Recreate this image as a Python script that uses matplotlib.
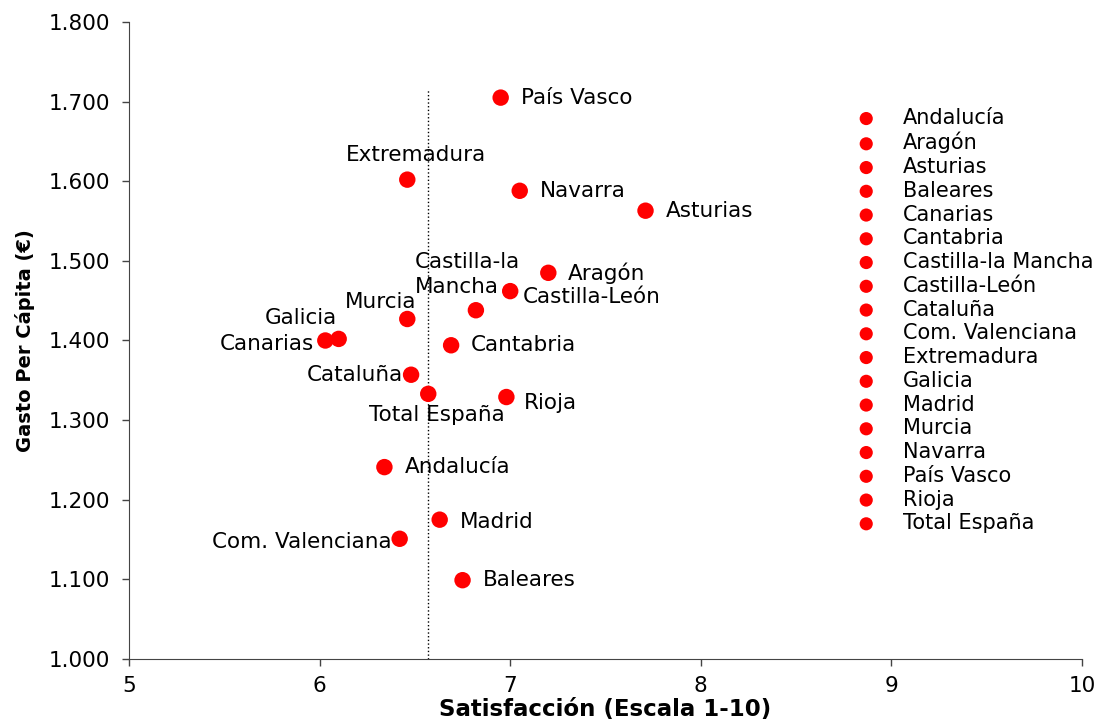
import matplotlib.pyplot as plt
from matplotlib.ticker import FuncFormatter

plt.rcParams['font.family'] = ['DejaVu Sans']

# datos por comunidad (orden alfabetico, como la leyenda)
regiones = ['Andalucía', 'Aragón', 'Asturias', 'Baleares', 'Canarias', 'Cantabria',
            'Castilla-la Mancha', 'Castilla-León', 'Cataluña', 'Com. Valenciana',
            'Extremadura', 'Galicia', 'Madrid', 'Murcia', 'Navarra', 'País Vasco',
            'Rioja', 'Total España']
satisfaccion = [6.34, 7.20, 7.71, 6.75, 6.03, 6.69, 6.82, 7.00, 6.48, 6.42,
                6.46, 6.10, 6.63, 6.46, 7.05, 6.95, 6.98, 6.57]
gasto = [1241, 1485, 1563, 1099, 1400, 1394, 1438, 1462, 1357, 1151,
         1602, 1402, 1175, 1427, 1588, 1705, 1329, 1333]

# etiquetas en el grafico: texto, desplazamiento (px), alineacion
etiquetas = {
    'Andalucía': ('Andalucía', 20, 0, 'left'),
    'Aragón': ('Aragón', 20, 0, 'left'),
    'Asturias': ('Asturias', 20, 0, 'left'),
    'Baleares': ('Baleares', 20, 0, 'left'),
    'Canarias': ('Canarias', -11, -4, 'right'),
    'Cantabria': ('Cantabria', 20, 0, 'left'),
    'Castilla-la Mancha': ('Castilla-la\nMancha', -61, 36, 'left'),
    'Castilla-León': ('Castilla-León', 13, -6, 'left'),
    'Cataluña': ('Cataluña', -8, 0, 'right'),
    'Com. Valenciana': ('Com. Valenciana', -8, -3, 'right'),
    'Extremadura': ('Extremadura', 9, 25, 'center'),
    'Galicia': ('Galicia', -38, 21, 'center'),
    'Madrid': ('Madrid', 20, -2, 'left'),
    'Murcia': ('Murcia', -27, 17, 'center'),
    'Navarra': ('Navarra', 20, 0, 'left'),
    'País Vasco': ('País Vasco', 20, 0, 'left'),
    'Rioja': ('Rioja', 17, -6, 'left'),
    'Total España': ('Total España', 9, -21, 'center'),
}

linea_total_x = 6.57
linea_total_y = [1000, 1715]

fig = plt.figure(figsize=(10.99, 7.25), dpi=100)
ax = fig.add_axes([0.1174, 0.0910, 0.8671, 0.8787])

for r, x, y in zip(regiones, satisfaccion, gasto):
    ax.scatter(x, y, s=140, color='#ff0000', edgecolors='none', label=r, zorder=3)
    t, dx, dy, ha = etiquetas[r]
    ax.annotate(t, (x, y), xytext=(dx, dy), textcoords='offset pixels',
                ha=ha, va='center', fontsize=15.5, linespacing=1.3)

ax.plot([linea_total_x, linea_total_x], linea_total_y, ':', color='black', lw=1, zorder=1)

ax.set_xlim(5, 10)
ax.set_ylim(1000, 1800)
ax.set_xticks(range(5, 11))
ax.set_yticks(range(1000, 1801, 100))
ax.yaxis.set_major_formatter(FuncFormatter(lambda v, p: f'{v:,.0f}'.replace(',', '.')))
ax.tick_params(labelsize=15.5, direction='out', length=5, width=1, color='#444444')
ax.tick_params(axis='y', pad=8.5)
ax.tick_params(axis='x', pad=7)
ax.spines['top'].set_visible(False)
ax.spines['right'].set_visible(False)
ax.spines['left'].set_color('#444444')
ax.spines['bottom'].set_color('#444444')

ax.set_xlabel('Satisfacción (Escala 1-10)', fontsize=16.5, fontweight='bold', labelpad=2)
ax.set_ylabel('Gasto Per Cápita (€)', fontsize=14, fontweight='bold', labelpad=10)

leg = ax.legend(loc='upper left', bbox_to_anchor=(0.743, 0.878), frameon=False,
                fontsize=15, markerscale=0.8, handletextpad=0.78,
                labelspacing=0.18, borderaxespad=0)

fig.savefig('out.png', dpi=100)
